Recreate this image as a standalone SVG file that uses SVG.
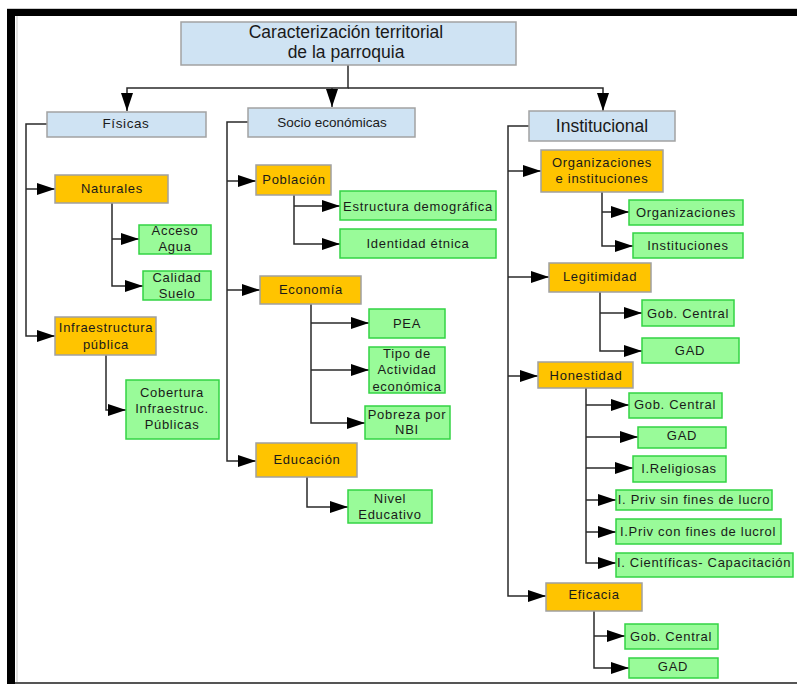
<svg xmlns="http://www.w3.org/2000/svg" width="797" height="684" viewBox="0 0 797 684">
<style>
.b{fill:#cfe3f3;stroke:#a2a2a2;stroke-width:1.5}
.o{fill:#ffc400;stroke:#a0a0a0;stroke-width:1.5}
.g{fill:#99fb99;stroke:#33d444;stroke-width:1.5}
text{font-family:"Liberation Sans",Arial,sans-serif;fill:#1a1a1a;text-anchor:middle}
.s{font-size:13px;letter-spacing:0.7px}
.m{font-size:13.5px}
.l{font-size:17.5px}
.c{fill:none;stroke:#2a2a2a;stroke-width:1.5;marker-end:url(#ah)}
</style>
<defs>
<marker id="ah" viewBox="0 0 18 12" markerWidth="18" markerHeight="12" refX="18" refY="6" orient="auto" markerUnits="userSpaceOnUse">
<path d="M0,0 L18,6 L0,12 Z" fill="#000"/>
</marker>
</defs>
<rect x="0" y="0" width="797" height="684" fill="#fff"/>
<rect x="7" y="8" width="790" height="1" fill="#ccc"/>
<rect x="7" y="9" width="790" height="7" fill="#000"/>
<rect x="7" y="9" width="8" height="675" fill="#000"/>
<rect x="16" y="16" width="2" height="667" fill="#e2e2e2"/>
<rect x="15" y="682" width="782" height="2" fill="#555"/>

<g id="connectors">
<path class="c" d="M348,65 V88 H127 V111"/>
<path class="c" d="M348,88 H603 V111"/>
<path class="c" d="M332,88 V107"/>
<path class="c" d="M47,124 H26 V336 H55"/>
<path class="c" d="M26,189 H55"/>
<path class="c" d="M112,203 V286 H143"/>
<path class="c" d="M112,239 H139"/>
<path class="c" d="M106,355 V410 H126"/>
<path class="c" d="M248,122 H227 V461 H256"/>
<path class="c" d="M227,181 H256"/>
<path class="c" d="M227,290 H260"/>
<path class="c" d="M294,195 V244 H340"/>
<path class="c" d="M294,206 H340"/>
<path class="c" d="M311,304 V423 H365"/>
<path class="c" d="M311,323 H369"/>
<path class="c" d="M311,370 H369"/>
<path class="c" d="M307,477 V507 H348"/>
<path class="c" d="M529,126 H508 V596 H546"/>
<path class="c" d="M508,171 H541"/>
<path class="c" d="M508,277 H549"/>
<path class="c" d="M508,376 H538"/>
<path class="c" d="M602,192 V246 H633"/>
<path class="c" d="M602,212 H629"/>
<path class="c" d="M600,292 V351 H642"/>
<path class="c" d="M600,313 H642"/>
<path class="c" d="M586,388 V563 H616"/>
<path class="c" d="M586,405 H629"/>
<path class="c" d="M586,437 H638"/>
<path class="c" d="M586,468 H633"/>
<path class="c" d="M586,500 H616"/>
<path class="c" d="M586,532 H616"/>
<path class="c" d="M594,611 V668 H629"/>
<path class="c" d="M594,636 H625"/>
</g>

<g id="title"><rect class="b" x="181" y="22" width="335" height="43"/><text class="l" x="346" y="38">Caracterización territorial</text><text class="l" x="346" y="58">de la parroquia</text></g>
<g id="fisicas"><rect class="b" x="47" y="112" width="159" height="25"/><text class="m" x="126" y="128" style="letter-spacing:0.6px">Físicas</text></g>
<g id="socio"><rect class="b" x="248" y="108" width="167" height="29"/><text class="m" x="332" y="127">Socio económicas</text></g>
<g id="institucional"><rect class="b" x="529" y="111" width="146" height="30"/><text class="l" x="602" y="132">Institucional</text></g>

<g id="naturales"><rect class="o" x="55" y="175" width="113" height="28"/><text class="s" x="112" y="193">Naturales</text></g>
<g id="infraestructura"><rect class="o" x="55" y="317" width="101" height="38"/><text class="s" x="106" y="332">Infraestructura</text><text class="s" x="106" y="349">pública</text></g>
<g id="poblacion"><rect class="o" x="256" y="165" width="75" height="30"/><text class="s" x="294" y="184">Población</text></g>
<g id="economia"><rect class="o" x="260" y="276" width="101" height="28"/><text class="s" x="311" y="294">Economía</text></g>
<g id="educacion"><rect class="o" x="256" y="443" width="101" height="34"/><text class="s" x="307" y="464">Educación</text></g>
<g id="organizaciones-instituciones"><rect class="o" x="541" y="150" width="122" height="42"/><text class="s" x="602" y="167">Organizaciones</text><text class="s" x="602" y="183">e instituciones</text></g>
<g id="legitimidad"><rect class="o" x="549" y="263" width="102" height="29"/><text class="s" x="600" y="281">Legitimidad</text></g>
<g id="honestidad"><rect class="o" x="538" y="362" width="95" height="26"/><text class="s" x="586" y="380">Honestidad</text></g>
<g id="eficacia"><rect class="o" x="546" y="583" width="96" height="28"/><text class="s" x="594" y="599">Eficacia</text></g>

<g id="acceso-agua"><rect class="g" x="139" y="225" width="72" height="29"/><text class="s" x="175" y="235">Acceso</text><text class="s" x="175" y="251">Agua</text></g>
<g id="calidad-suelo"><rect class="g" x="143" y="271" width="68" height="29"/><text class="s" x="177" y="282">Calidad</text><text class="s" x="177" y="298">Suelo</text></g>
<g id="cobertura"><rect class="g" x="126" y="380" width="93" height="59"/><text class="s" x="172" y="397">Cobertura</text><text class="s" x="172" y="413">Infraestruc.</text><text class="s" x="172" y="429">Públicas</text></g>
<g id="estructura"><rect class="g" x="340" y="191" width="156" height="29"/><text class="s" x="418" y="211">Estructura demográfica</text></g>
<g id="identidad"><rect class="g" x="340" y="229" width="156" height="29"/><text class="s" x="418" y="248">Identidad étnica</text></g>
<g id="pea"><rect class="g" x="369" y="309" width="76" height="29"/><text class="s" x="407" y="328">PEA</text></g>
<g id="tipo-actividad"><rect class="g" x="369" y="347" width="76" height="46"/><text class="s" x="407" y="358">Tipo de</text><text class="s" x="407" y="374">Actividad</text><text class="s" x="407" y="391">económica</text></g>
<g id="pobreza"><rect class="g" x="365" y="406" width="85" height="33"/><text class="s" x="407" y="419">Pobreza por</text><text class="s" x="407" y="434">NBI</text></g>
<g id="nivel-educativo"><rect class="g" x="348" y="490" width="84" height="33"/><text class="s" x="390" y="503">Nivel</text><text class="s" x="390" y="519">Educativo</text></g>
<g id="organizaciones"><rect class="g" x="629" y="200" width="114" height="25"/><text class="s" x="686" y="217">Organizaciones</text></g>
<g id="instituciones"><rect class="g" x="633" y="233" width="110" height="25"/><text class="s" x="688" y="250">Instituciones</text></g>
<g id="gob-central-1"><rect class="g" x="642" y="300" width="92" height="26"/><text class="s" x="688" y="318">Gob. Central</text></g>
<g id="gad-1"><rect class="g" x="642" y="338" width="97" height="25"/><text class="s" x="690" y="355">GAD</text></g>
<g id="gob-central-2"><rect class="g" x="629" y="393" width="93" height="25"/><text class="s" x="675" y="409">Gob. Central</text></g>
<g id="gad-2"><rect class="g" x="638" y="427" width="88" height="21"/><text class="s" x="682" y="440">GAD</text></g>
<g id="religiosas"><rect class="g" x="633" y="456" width="93" height="26"/><text class="s" x="679" y="473">I.Religiosas</text></g>
<g id="priv-sin"><rect class="g" x="616" y="490" width="156" height="20"/><text class="s" x="694" y="504">I. Priv sin fines de lucro</text></g>
<g id="priv-con"><rect class="g" x="616" y="519" width="165" height="25"/><text class="s" x="698" y="536">I.Priv con fines de lucrol</text></g>
<g id="cientificas"><rect class="g" x="616" y="553" width="177" height="24"/><text class="s" x="704" y="567">I. Científicas- Capacitación</text></g>
<g id="gob-central-3"><rect class="g" x="625" y="624" width="93" height="25"/><text class="s" x="671" y="641">Gob. Central</text></g>
<g id="gad-3"><rect class="g" x="629" y="658" width="89" height="20"/><text class="s" x="673" y="671">GAD</text></g>
</svg>
